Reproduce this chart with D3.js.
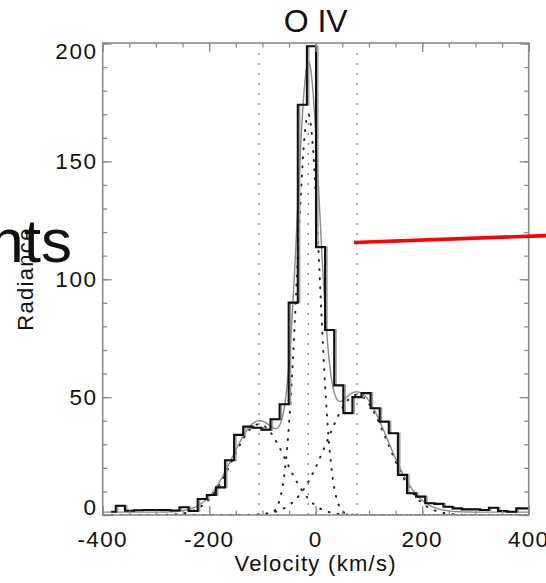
<!DOCTYPE html>
<html>
<head>
<meta charset="utf-8">
<script src="https://cdn.jsdelivr.net/npm/d3@7"></script>
<style>
  html, body { margin: 0; padding: 0; background: #ffffff; }
  svg { display: block; }
  text { font-family: "Liberation Sans", Arial, Helvetica, sans-serif; fill: #111; }
</style>
</head>
<body>
<svg id="chart" width="546" height="583"></svg>
<script>
// ---------------- data ----------------
const title = "O IV";
const xTitle = "Velocity (km/s)";
const yTitle = "Radiance";
const overlayText = "nts";

// observed profile: bin centres (km/s) and radiance
const velocity = [
  -383.97, -366.88, -349.79, -332.70, -315.61, -298.52, -281.43, -264.34,
  -247.25, -230.16, -213.07, -195.98, -178.89, -161.80, -144.71, -127.62,
  -110.53, -93.44, -76.35, -59.26, -42.17, -25.08, -7.99, 9.10,
  26.19, 43.28, 60.37, 77.46, 94.55, 111.64, 128.73, 145.82,
  162.91, 180.00, 197.09, 214.18, 231.27, 248.36, 265.45, 282.54,
  299.63, 316.72, 333.81, 350.90, 367.99, 385.08, 402.17
];
const radiance = [
  1.4, 3.9, 1.8, 2.0, 2.1, 2.1, 2.1, 1.9,
  3.3, 1.7, 6.8, 8.5, 11.7, 23.2, 34.0, 37.5,
  37.0, 36.2, 40.6, 47.0, 90.1, 174.0, 198.8, 113.6,
  78.5, 55.0, 43.2, 50.0, 51.7, 45.3, 39.6, 34.7,
  17.0, 9.2, 7.8, 5.0, 4.7, 3.5, 2.8, 2.4,
  2.4, 2.1, 3.1, 1.7, 1.4, 2.8, 2.8
];
// grey duplicate of the profile is drawn slightly offset in velocity
const greyProfileShift = 3.5;

// Gaussian fit components (centre, amplitude, width) and background
const compCentre = [-106.5, -13.9, 77.6];
const compAmp    = [38.5, 170.0, 51.0];
const compSigma  = [50.0, 21.0, 57.0];
const fitBackground = 1.2;

// axes
const xDomain = [-400, 400];
const yDomain = [0, 200.2];
const xTicks = [-400, -200, 0, 200, 400];
const xTickLabels = ["-400", "-200", "0", "200", "400"];
const yTicks = [0, 50, 100, 150, 200];
const yTickLabels = ["0", "50", "100", "150", "200"];
const xMinorStep = 50;
const yMinorStep = 10;

// red annotation line, in data coordinates (velocity, radiance)
const annotationLine = [[71.9, 115.6], [432.5, 118.5]];

// ---------------- layout ----------------
const W = 546, H = 583;
const plot = { l: 102.7, r: 528.7, t: 43, b: 515 };

const svg = d3.select("#chart");
const x = d3.scaleLinear().domain(xDomain).range([plot.l, plot.r]);
const y = d3.scaleLinear().domain(yDomain).range([plot.b, plot.t]);

svg.append("defs").append("clipPath").attr("id", "plotclip")
  .append("rect").attr("x", plot.l).attr("y", plot.t)
  .attr("width", plot.r - plot.l).attr("height", plot.b - plot.t);

const g = svg.append("g").attr("clip-path", "url(#plotclip)");

// vertical dotted lines at component centres
g.selectAll("line.centre").data(compCentre).join("line")
  .attr("class", "centre")
  .attr("x1", d => x(d)).attr("x2", d => x(d))
  .attr("y1", y(0)).attr("y2", y(197))
  .attr("stroke", "#7a7a7a").attr("stroke-width", 1.2)
  .attr("stroke-dasharray", "2,8");

// velocity grid for smooth curves
const vGrid = d3.range(xDomain[0], xDomain[1] + 0.01, 1.5);
const gauss = (v, i) => compAmp[i] * Math.exp(-Math.pow(v - compCentre[i], 2) / (2 * compSigma[i] * compSigma[i]));

const smoothLine = d3.line().x(d => x(d[0])).y(d => y(d[1])).curve(d3.curveLinear);

// dotted individual components
compCentre.forEach((c, i) => {
  g.append("path")
    .datum(vGrid.map(v => [v, gauss(v, i)]))
    .attr("d", smoothLine)
    .attr("fill", "none")
    .attr("stroke", "#2a2a2a")
    .attr("stroke-width", 2)
    .attr("stroke-linecap", "round")
    .attr("stroke-dasharray", "0.9,8.2");
});

// step line (histogram mode)
const stepLine = d3.line().x(d => x(d[0])).y(d => y(d[1])).curve(d3.curveStep);

// grey duplicate profile
g.append("path")
  .datum(velocity.map((v, i) => [v + greyProfileShift, radiance[i]]))
  .attr("d", stepLine)
  .attr("fill", "none").attr("stroke", "#9c9c9c").attr("stroke-width", 1.5);

// total fit (grey smooth)
g.append("path")
  .datum(vGrid.map(v => [v, fitBackground + compCentre.reduce((s, c, i) => s + gauss(v, i), 0)]))
  .attr("d", smoothLine)
  .attr("fill", "none").attr("stroke", "#8a8a8a").attr("stroke-width", 1.4);

// observed profile (black step)
g.append("path")
  .datum(velocity.map((v, i) => [v, radiance[i]]))
  .attr("d", stepLine)
  .attr("fill", "none").attr("stroke", "#111").attr("stroke-width", 2.1)
  .attr("stroke-linejoin", "miter");

// ---------------- axes ----------------
const axisColor = "#8a8a8a";
const xMinor = d3.range(xDomain[0], xDomain[1] + 0.01, xMinorStep);
const yMinor = d3.range(yDomain[0], 200 + 0.01, yMinorStep);

function styleAxis(sel) {
  sel.select(".domain").remove();
  sel.selectAll(".tick line").attr("stroke", axisColor).attr("stroke-width", 1.3);
  sel.selectAll(".tick text").remove();
}
const axes = svg.append("g");
// bottom (ticks inward = upward)
axes.append("g").attr("transform", `translate(0,${plot.b})`)
  .call(d3.axisBottom(x).tickValues(xMinor).tickSize(-4.5).tickFormat("")).call(styleAxis);
axes.append("g").attr("transform", `translate(0,${plot.b})`)
  .call(d3.axisBottom(x).tickValues(xTicks).tickSize(-9).tickFormat("")).call(styleAxis);
// top
axes.append("g").attr("transform", `translate(0,${plot.t})`)
  .call(d3.axisTop(x).tickValues(xMinor).tickSize(-4.5).tickFormat("")).call(styleAxis);
axes.append("g").attr("transform", `translate(0,${plot.t})`)
  .call(d3.axisTop(x).tickValues(xTicks).tickSize(-9).tickFormat("")).call(styleAxis);
// left
axes.append("g").attr("transform", `translate(${plot.l},0)`)
  .call(d3.axisLeft(y).tickValues(yMinor).tickSize(-4.5).tickFormat("")).call(styleAxis);
axes.append("g").attr("transform", `translate(${plot.l},0)`)
  .call(d3.axisLeft(y).tickValues(yTicks).tickSize(-9).tickFormat("")).call(styleAxis);
// right
axes.append("g").attr("transform", `translate(${plot.r},0)`)
  .call(d3.axisRight(y).tickValues(yMinor).tickSize(-4.5).tickFormat("")).call(styleAxis);
axes.append("g").attr("transform", `translate(${plot.r},0)`)
  .call(d3.axisRight(y).tickValues(yTicks).tickSize(-9).tickFormat("")).call(styleAxis);

// frame
axes.append("rect")
  .attr("x", plot.l).attr("y", plot.t)
  .attr("width", plot.r - plot.l).attr("height", plot.b - plot.t)
  .attr("fill", "none").attr("stroke", axisColor).attr("stroke-width", 1.6);

// tick labels
const tickFont = 22.5, capH = 15.6;
svg.append("g").selectAll("text").data(xTicks).join("text")
  .attr("x", d => x(d)).attr("y", plot.b + 31.7)
  .attr("text-anchor", "middle")
  .style("font-size", tickFont + "px").style("letter-spacing", "1.3px")
  .text((d, i) => xTickLabels[i]);

svg.append("g").selectAll("text").data(yTicks).join("text")
  .attr("x", plot.l - 5)
  .attr("y", d => Math.max(plot.t + capH, Math.min(plot.b, y(d) + capH / 2)))
  .attr("text-anchor", "end")
  .style("font-size", tickFont + "px").style("letter-spacing", "1.6px")
  .text((d, i) => yTickLabels[i]);

// titles
svg.append("text")
  .attr("x", (plot.l + plot.r) / 2).attr("y", 31.7)
  .attr("text-anchor", "middle")
  .style("font-size", "32px")
  .text(title);

svg.append("text")
  .attr("x", (plot.l + plot.r) / 2).attr("y", 570.5)
  .attr("text-anchor", "middle")
  .style("font-size", "22px").style("letter-spacing", "1.3px")
  .text(xTitle);

svg.append("text")
  .attr("transform", `translate(33,${(plot.t + plot.b) / 2}) rotate(-90)`)
  .attr("text-anchor", "middle")
  .style("font-size", "22px").style("letter-spacing", "1.3px")
  .text(yTitle);

// overlapping large text fragment at left
svg.append("text")
  .attr("x", 72).attr("y", 261.7)
  .attr("text-anchor", "end")
  .style("font-size", "62px")
  .text(overlayText);

// red annotation line
svg.append("line")
  .attr("x1", x(annotationLine[0][0])).attr("y1", y(annotationLine[0][1]))
  .attr("x2", x(annotationLine[1][0])).attr("y2", y(annotationLine[1][1]))
  .attr("stroke", "#ff0000").attr("stroke-width", 3.6);
</script>
</body>
</html>
